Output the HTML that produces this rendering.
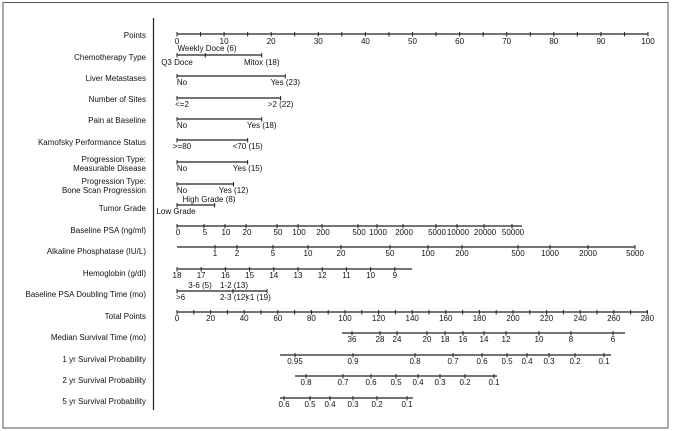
<!DOCTYPE html>
<html><head><meta charset="utf-8"><style>
html,body{margin:0;padding:0;background:#fff}
svg{display:block}
text{font-family:"Liberation Sans",Arial,sans-serif;font-size:8px;fill:#111}
</style></head><body>
<svg id="s" width="673" height="431" viewBox="0 0 673 431">
<rect x="3" y="2.5" width="665" height="425.5" fill="none" stroke="#555" stroke-width="1"/>
<line x1="153.5" y1="18" x2="153.5" y2="410" stroke="#222" stroke-width="1.2"/>
</svg>
<script>
var s=document.getElementById('s'),NS='http://www.w3.org/2000/svg';
function el(t,a,txt){var e=document.createElementNS(NS,t);for(var k in a)e.setAttribute(k,a[k]);if(txt!=null)e.textContent=txt;s.appendChild(e);return e;}
function line(x1,x2,y){el('line',{x1:x1,x2:x2,y1:y,y2:y,stroke:'#222','stroke-width':1.3});}
function tick(x,y){el('line',{x1:x,x2:x,y1:y-2,y2:y+2.5,stroke:'#222','stroke-width':1});}
function t(x,y,str,anch){el('text',{x:x,y:y,'text-anchor':anch||'middle'},str);}
function lab(y,str){t(146,y+3,str,'end');}
var P=function(p){return 177+p*4.71;};
[[35,'Points'],[57,'Chemotherapy Type'],[78,'Liver Metastases'],[99,'Number of Sites'],[120,'Pain at Baseline'],[142,'Kamofsky Performance Status'],[159,'Progression Type:'],[168,'Measurable Disease'],[181,'Progression Type:'],[190,'Bone Scan Progression'],[208,'Tumor Grade'],[230,'Baseline PSA (ng/ml)'],[251,'Alkaline Phosphatase (IU/L)'],[273,'Hemoglobin (g/dl)'],[294,'Baseline PSA Doubling Time (mo)'],[316,'Total Points'],[337,'Median Survival Time (mo)'],[359,'1 yr Survival Probability'],[380,'2 yr Survival Probability'],[401,'5 yr Survival Probability']].forEach(function(a){lab(a[0],a[1]);});
line(177,648,34);
for(var p=0;p<=100;p+=5){tick(P(p),34);if(p%10==0)t(P(p),44,String(p));}
line(177,P(18),55);tick(177,55);tick(P(6),55);tick(P(18),55);
t(207,51,'Weekly Doce (6)');t(177,65,'Q3 Doce');t(P(18),65,'Mitox (18)');
function bin2(y,v,a,b){line(177,P(v),y);tick(177,y);tick(P(v),y);t(182,y+9,a);t(P(v),y+9,b);}
bin2(76,23,'No','Yes (23)');
bin2(98,22,'<=2','>2 (22)');
bin2(119,18,'No','Yes (18)');
bin2(140,15,'>=80','<70 (15)');
bin2(162,15,'No','Yes (15)');
bin2(184,12,'No','Yes (12)');
line(177,P(8),205);tick(177,205);tick(P(8),205);t(209,202,'High Grade (8)');t(176,214,'Low Grade');
line(177,522,226);
[[0,178],[5,205],[10,226],[20,247],[50,278],[100,299],[200,323],[500,359],[1000,378],[2000,404],[5000,437],[10000,458],[20000,485],[50000,513]].forEach(function(a){tick(a[1]-1,226);t(a[1],235,String(a[0]));});
line(177,635,247);
[[1,215],[2,237],[5,273],[10,308],[20,341],[50,390],[100,428],[200,462],[500,518],[1000,550],[2000,588],[5000,635]].forEach(function(a){tick(a[1],247);t(a[1],256,String(a[0]));});
line(177,412,269);
[18,17,16,15,14,13,12,11,10,9].forEach(function(v,i){var x=177+i*24.2;tick(x,269);t(x,278,String(v));});
line(177,267,291);tick(177,291);tick(233,291);tick(267,291);
el('text',{x:200,y:288,'text-anchor':'middle','font-size':'7'},'3-6 (5)');
el('text',{x:234,y:288,'text-anchor':'middle','font-size':'7'},'1-2 (13)');
el('text',{x:176,y:300,'text-anchor':'start','font-size':'7'},'>6');
el('text',{x:234,y:300,'text-anchor':'middle','font-size':'7'},'2-3 (12)');
el('text',{x:258,y:300,'text-anchor':'middle','font-size':'7'},'<1 (19)');
line(177,648,312);
for(var v=0;v<=280;v+=10){var x=177+v*1.68;tick(x,312);if(v%20==0)t(x,321,String(v));}
line(342,625,333);
[[36,352],[28,380],[24,397],[20,427],[18,445],[16,463],[14,484],[12,506],[10,539],[8,571],[6,613]].forEach(function(a){tick(a[1],333);t(a[1],342,String(a[0]));});
line(280,611,355);
[['0.95',295],['0.9',353],['0.8',415],['0.7',453],['0.6',482],['0.5',507],['0.4',527],['0.3',549],['0.2',575],['0.1',604]].forEach(function(a){tick(a[1],355);t(a[1],364,a[0]);});
line(295,497,376);
[['0.8',306],['0.7',343],['0.6',371],['0.5',396],['0.4',418],['0.3',440],['0.2',465],['0.1',494]].forEach(function(a){tick(a[1],376);t(a[1],385,a[0]);});
line(280,413,398);
[['0.6',284],['0.5',310],['0.4',330],['0.3',353],['0.2',377],['0.1',407]].forEach(function(a){tick(a[1],398);t(a[1],407,a[0]);});
</script>
</body></html>
